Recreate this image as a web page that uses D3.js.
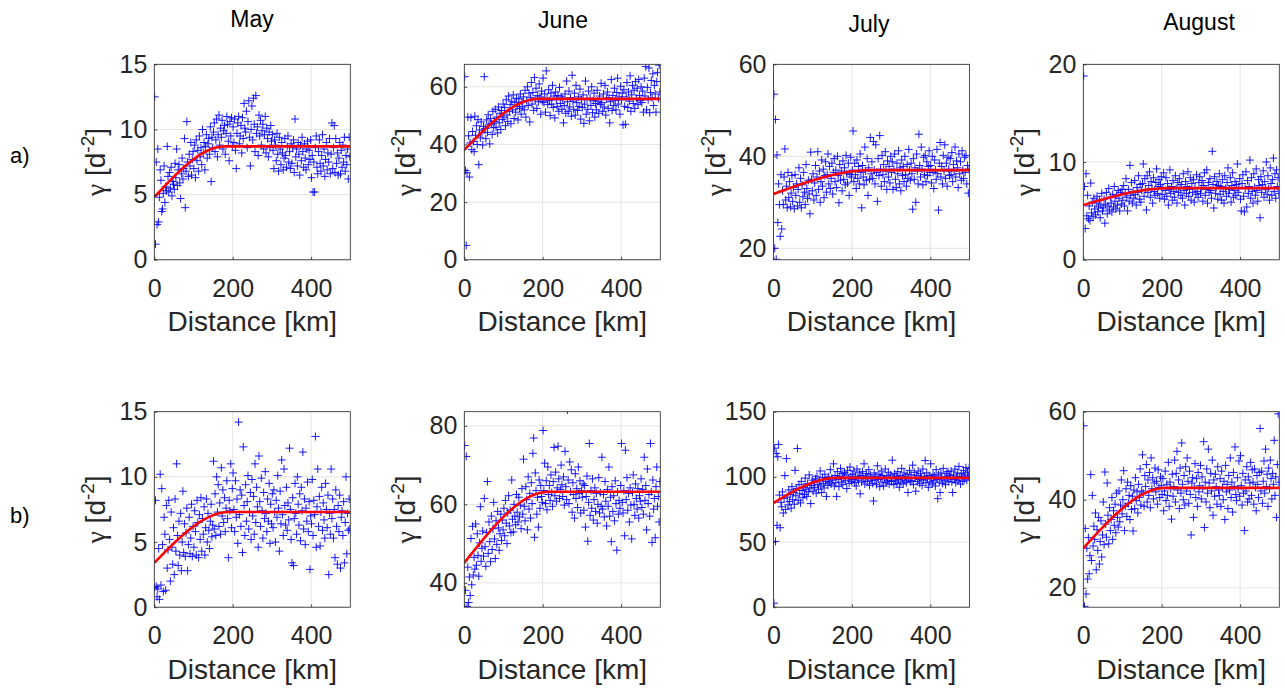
<!DOCTYPE html>
<html>
<head>
<meta charset="utf-8">
<script src="https://cdn.jsdelivr.net/npm/d3@7"></script>
<style>
  body { margin: 0; background: #fff; }
  svg { display: block; }
</style>
</head>
<body>
<svg id="fig" width="1285" height="688"></svg>
<script>
// Empirical semivariograms of the daily series by month, with fitted spherical models.
const months = ["May", "June", "July", "August"];
const rowLabels = ["a)", "b)"];
const xTicks = [0, 200, 400];
const maxDistance = 500; // km, lag bins span 0..500

// Semivariance per lag bin (bins evenly spaced over 0..500 km)
const mayA = [
  12.5, 1.2, 7.5, 2.7, 8.5, 2.9, 4.8, 6.9, 6.1, 3.7, 3.9, 5.1, 7.2, 4.4, 5.6, 5.3, 8.7, 6.4, 5.2, 6.7, 5.5, 7.1, 4.9, 6.0, 5.8,
  5.4, 7.4, 6.3, 8.5, 5.7, 6.9, 7.3, 5.9, 4.7, 6.6, 7.8, 6.2, 7.0, 9.3, 4.0, 6.8, 10.6, 7.5, 6.4, 8.1, 7.2, 9.0, 6.5, 7.7, 8.3,
  7.0, 8.8, 6.3, 9.2, 7.6, 8.4, 6.8, 9.5, 7.9, 8.6, 7.3, 10.0, 8.2, 9.0, 6.9, 8.7, 9.6, 7.8, 8.9, 9.3, 8.1, 10.2, 6.0, 9.4, 8.6,
  9.8, 10.5, 8.3, 9.2, 10.8, 7.9, 9.6, 11.1, 8.8, 10.1, 9.4, 10.7, 8.5, 9.9, 10.3, 8.1, 9.7, 11.0, 10.4, 9.1, 7.6, 10.6, 9.5, 10.9, 8.7,
  10.2, 9.0, 10.8, 8.4, 7.0, 9.7, 10.5, 11.0, 8.9, 9.5, 10.3, 8.2, 10.9, 9.3, 12.0, 10.1, 9.8, 11.4, 8.6, 10.6, 12.2, 9.4, 7.2, 10.0, 11.8,
  9.2, 12.4, 10.4, 8.3, 12.6, 9.7, 10.2, 8.0, 11.1, 9.5, 10.7, 8.8, 9.9, 10.4, 8.5, 9.6, 11.0, 8.2, 10.1, 9.3, 7.9, 9.8, 8.6, 10.3, 9.1,
  9.6, 8.4, 7.0, 9.2, 8.8, 7.6, 9.7, 8.1, 6.8, 9.4, 8.5, 7.3, 9.0, 8.2, 6.9, 7.8, 9.3, 8.0, 7.1, 8.7, 9.5, 7.5, 8.3, 7.0, 8.9,
  7.4, 8.6, 9.2, 6.7, 10.8, 7.9, 8.5, 7.2, 9.0, 8.1, 6.5, 8.8, 7.6, 9.4, 8.3, 7.1, 8.9, 7.8, 6.9, 8.5, 9.1, 7.3, 8.4, 7.7, 9.2,
  6.3, 8.0, 5.2, 7.5, 5.2, 8.6, 9.5, 7.1, 6.6, 8.3, 9.2, 7.4, 6.8, 8.0, 9.6, 7.2, 8.5, 6.4, 7.7, 9.0, 6.9, 8.2, 7.5, 9.3, 6.6,
  8.1, 10.5, 7.0, 8.6, 10.3, 6.7, 9.3, 7.4, 8.2, 6.5, 7.8, 9.0, 6.6, 8.4, 7.1, 8.8, 7.5, 9.4, 6.8, 8.0, 7.3, 8.5, 6.2, 9.4, 7.9
];
const juneA = [
  63.5, 31.0, 5.0, 30.2, 49.5, 43.0, 28.7, 40.5, 49.3, 38.2, 44.5, 41.0, 37.5, 49.8, 43.2, 46.5, 40.0, 48.6, 33.0, 45.0, 42.3, 47.8, 44.0, 39.8, 46.2,
  63.5, 45.5, 42.0, 48.5, 44.2, 50.3, 46.8, 40.2, 49.0, 47.2, 43.5, 51.5, 45.8, 48.0, 52.2, 46.0, 49.5, 44.0, 53.0, 47.5, 50.8, 45.2, 51.8, 48.7, 54.0,
  49.5, 52.8, 46.5, 55.5, 50.2, 48.0, 56.8, 51.5, 53.8, 47.2, 55.0, 52.0, 57.2, 49.0, 54.5, 51.2, 56.0, 53.2, 48.5, 55.8, 52.5, 57.5, 50.5, 54.8, 53.0,
  56.5, 52.0, 58.8, 49.5, 55.2, 60.0, 53.5, 57.8, 47.8, 56.2, 61.5, 54.0, 58.0, 51.8, 63.2, 55.5, 59.5, 52.5, 57.0, 54.8, 61.0, 56.5, 50.5, 58.5, 55.0,
  63.0, 54.5, 57.5, 51.2, 65.5, 56.0, 53.8, 59.0, 55.2, 50.0, 57.8, 54.0, 60.5, 52.8, 56.8, 49.2, 58.2, 55.5, 53.2, 57.0, 51.5, 59.8, 54.2, 56.5, 52.2,
  55.8, 47.5, 53.5, 57.5, 50.8, 62.0, 54.8, 51.5, 58.5, 53.0, 56.2, 49.8, 64.0, 55.0, 52.2, 57.8, 50.2, 60.5, 54.5, 51.8, 56.5, 53.2, 59.2, 48.8, 55.5,
  52.8, 57.2, 47.3, 54.0, 62.0, 50.5, 55.8, 52.2, 58.5, 48.2, 56.0, 53.5, 60.0, 51.0, 55.2, 57.8, 49.5, 54.2, 52.0, 58.8, 55.0, 50.8, 56.8, 53.8, 61.2,
  54.5, 51.5, 57.5, 53.0, 60.5, 50.2, 55.8, 58.2, 52.5, 56.2, 47.5, 54.8, 62.5, 51.8, 57.0, 53.5, 59.5, 55.2, 52.0, 58.0, 63.0, 54.0, 56.5, 50.5, 60.2,
  55.5, 57.8, 46.8, 59.0, 53.2, 47.0, 56.5, 61.5, 52.8, 58.2, 55.0, 63.8, 51.5, 57.2, 60.5, 54.2, 58.8, 52.5, 61.8, 56.0, 59.5, 53.8, 62.5, 57.0, 55.2,
  60.0, 54.5, 58.5, 51.2, 63.0, 56.8, 67.0, 52.0, 59.8, 55.5, 66.5, 51.0, 58.0, 62.2, 56.2, 64.5, 53.5, 60.5, 57.5, 51.2, 61.8, 65.0, 56.0, 67.5, 58.2
];
const julyA = [
  53.5, 20.0, 48.0, 17.6, 40.3, 25.6, 34.0, 29.5, 22.6, 36.0, 24.2, 32.5, 29.5, 35.5, 41.6, 30.5, 33.5, 28.8, 36.5, 31.0, 34.5, 29.0, 32.0, 35.8, 30.2,
  33.2, 28.6, 36.0, 31.5, 34.0, 29.2, 32.8, 37.5, 30.0, 35.2, 28.8, 33.8, 31.2, 36.5, 32.2, 29.5, 38.2, 33.0, 30.8, 34.8, 31.8, 27.5, 40.9, 35.0, 32.5,
  36.2, 30.5, 34.2, 38.0, 31.5, 35.5, 41.0, 32.8, 36.8, 30.0, 34.5, 39.2, 33.5, 37.2, 31.0, 35.8, 38.8, 32.2, 36.0, 40.5, 34.0, 37.8, 33.0, 35.2, 38.5,
  31.8, 36.5, 39.5, 34.5, 37.0, 33.2, 40.0, 35.8, 29.9, 38.2, 34.8, 36.8, 32.5, 39.0, 35.0, 37.5, 33.8, 40.2, 36.2, 34.2, 38.5, 31.5, 36.0, 39.8, 35.5,
  37.0, 45.5, 34.5, 38.5, 36.0, 33.0, 39.2, 35.2, 37.8, 34.0, 40.5, 36.5, 28.8, 38.0, 35.5, 33.8, 42.0, 36.8, 34.8, 39.5, 31.5, 37.5, 35.0, 44.1, 36.2,
  38.8, 35.2, 43.2, 37.0, 34.0, 42.5, 36.5, 30.2, 39.5, 35.8, 44.5, 37.2, 33.5, 40.2, 36.0, 38.2, 34.5, 41.0, 36.8, 32.8, 39.0, 35.5, 37.8, 34.2, 40.0,
  36.5, 38.8, 32.8, 37.2, 40.5, 35.0, 33.2, 38.5, 36.2, 41.2, 34.0, 37.5, 32.5, 39.2, 35.8, 37.8, 34.5, 40.0, 36.0, 33.5, 38.2, 35.2, 41.5, 37.0, 34.8,
  38.5, 36.2, 28.5, 39.5, 35.0, 37.5, 30.0, 40.5, 36.8, 34.0, 44.8, 38.0, 35.5, 42.0, 37.2, 33.8, 39.8, 36.0, 40.2, 34.5, 38.8, 35.8, 37.8, 41.2, 36.5,
  38.0, 34.2, 40.0, 36.5, 33.0, 39.2, 37.0, 35.0, 41.5, 36.2, 28.3, 38.5, 43.0, 35.5, 37.8, 34.0, 40.2, 36.8, 42.5, 35.2, 38.5, 33.5, 39.8, 37.2, 35.8,
  39.5, 36.0, 40.8, 34.5, 38.2, 36.8, 42.0, 35.5, 39.0, 37.5, 33.2, 40.5, 36.2, 38.8, 34.8, 41.2, 37.0, 35.2, 39.8, 36.5, 40.2, 34.0, 38.0, 32.0, 37.2
];
const augustA = [
  18.8, 7.5, 3.2, 8.8, 4.5, 6.6, 4.2, 5.5, 4.0, 7.85, 4.8, 5.9, 4.4, 6.3, 5.2, 4.6, 5.8, 6.5, 4.9, 5.4, 6.1, 4.3, 5.6, 6.8, 5.0,
  5.3, 6.2, 3.75, 5.7, 6.9, 4.7, 5.5, 7.3, 5.1, 6.4, 5.8, 4.9, 6.7, 5.4, 7.5, 6.0, 5.2, 6.6, 5.6, 7.1, 6.3, 5.0, 6.9, 5.7, 7.2,
  6.1, 7.6, 5.5, 6.8, 8.3, 6.4, 5.0, 7.2, 6.0, 9.66, 6.6, 7.9, 5.8, 7.0, 6.3, 8.1, 6.7, 5.6, 7.4, 6.9, 8.6, 6.2, 7.7, 5.9, 7.1,
  7.8, 9.8, 6.5, 8.3, 7.2, 5.1, 8.6, 6.9, 7.6, 9.0, 6.4, 8.0, 7.3, 5.8, 8.4, 7.0, 6.6, 7.9, 9.3, 6.8, 7.5, 8.2, 6.3, 7.7, 8.5,
  6.7, 7.4, 8.9, 6.2, 7.1, 8.4, 6.5, 7.8, 5.6, 7.2, 9.2, 6.8, 7.5, 6.1, 8.1, 7.0, 6.4, 8.6, 7.3, 5.8, 7.9, 6.9, 8.3, 7.4, 6.6,
  7.7, 6.3, 8.8, 7.1, 5.6, 8.0, 6.8, 7.5, 9.0, 6.5, 7.2, 8.4, 6.1, 7.8, 6.9, 8.2, 5.9, 7.4, 6.7, 8.7, 7.0, 6.4, 7.9, 8.5, 6.8,
  7.3, 8.1, 6.0, 7.6, 8.9, 6.6, 7.2, 9.2, 5.8, 7.9, 6.9, 8.3, 7.1, 6.3, 11.1, 7.7, 5.3, 8.5, 6.8, 7.4, 8.0, 6.2, 7.6, 8.8, 6.7,
  7.5, 6.1, 8.2, 7.0, 5.8, 8.6, 7.3, 6.5, 7.9, 9.4, 6.8, 7.2, 8.4, 5.9, 7.6, 8.9, 6.4, 7.1, 8.0, 6.6, 7.7, 9.8, 6.9, 7.4, 8.3,
  6.2, 5.0, 7.8, 8.7, 6.5, 4.9, 7.3, 9.0, 5.4, 8.1, 6.8, 7.5, 10.2, 6.3, 8.4, 7.0, 5.8, 8.8, 7.4, 6.6, 9.3, 7.1, 6.0, 8.2, 7.6,
  4.3, 8.5, 6.9, 7.7, 9.1, 6.4, 8.0, 7.2, 10.0, 6.7, 8.6, 7.3, 6.1, 9.4, 7.8, 6.6, 8.2, 10.4, 7.0, 8.8, 6.3, 9.2, 7.5, 8.4, 6.8
];
const mayB = [
  1.5, 8.2, 1.6, 0.8, 1.4, 4.5, 0.6, 10.2, 1.7, 9.1, 4.8, 1.2, 6.9, 5.6, 1.3, 7.8, 3.0, 4.4, 8.2, 5.2, 2.0, 7.3, 4.6, 3.3, 6.1,
  2.5, 8.3, 4.3, 11.0, 5.5, 3.2, 6.6, 4.0, 7.2, 2.8, 5.0, 8.9, 4.2, 6.4, 3.9, 5.7, 7.6, 2.8, 4.8, 6.9, 4.1, 5.3, 7.9, 3.9, 6.2,
  4.6, 7.4, 5.8, 4.0, 8.2, 6.5, 3.8, 7.1, 5.2, 8.4, 4.3, 6.8, 5.6, 7.7, 4.0, 6.1, 8.3, 5.0, 7.2, 5.9, 4.5, 6.6, 7.9, 5.4, 6.3,
  11.2, 6.0, 8.7, 5.5, 10.0, 7.3, 9.4, 6.2, 8.0, 5.6, 10.7, 7.0, 9.0, 6.5, 8.4, 5.8, 7.6, 9.7, 6.8, 3.8, 8.2, 7.4, 11.0, 6.1, 9.1,
  10.3, 7.5, 5.8, 9.7, 6.9, 8.3, 4.9, 14.2, 7.1, 9.0, 6.2, 8.6, 4.2, 12.3, 7.8, 5.5, 9.4, 6.6, 8.1, 10.1, 6.0, 7.3, 8.8, 5.2, 9.8,
  7.0, 8.5, 5.6, 11.0, 6.5, 9.2, 7.7, 4.6, 11.6, 8.1, 6.2, 9.9, 7.4, 5.3, 8.8, 6.8, 10.4, 7.2, 5.8, 8.3, 6.6, 9.5, 4.9, 7.9, 6.4,
  8.7, 6.1, 9.0, 7.3, 5.0, 8.2, 6.9, 10.1, 7.6, 4.3, 8.9, 6.4, 11.3, 7.1, 5.5, 10.6, 7.8, 6.3, 9.2, 5.9, 8.0, 6.7, 12.2, 7.5, 5.2,
  3.4, 8.4, 3.2, 6.8, 9.5, 7.2, 5.6, 10.0, 7.9, 6.3, 8.7, 5.1, 9.2, 7.4, 11.9, 6.0, 8.3, 4.8, 7.6, 6.6, 9.6, 5.8, 8.1, 2.9, 7.0,
  6.4, 9.8, 5.5, 8.2, 7.1, 13.1, 4.6, 7.7, 10.6, 6.2, 8.5, 4.7, 7.3, 9.2, 5.9, 8.0, 6.7, 5.3, 9.5, 7.5, 6.1, 8.6, 2.5, 7.2, 5.6,
  10.6, 6.8, 8.3, 5.3, 7.5, 3.8, 9.0, 6.2, 3.3, 7.8, 5.8, 8.6, 3.0, 6.9, 7.4, 5.5, 8.1, 3.4, 6.5, 10.0, 4.1, 7.2, 5.9, 8.3, 6.0
];
const juneB = [
  75.0, 38.1, 72.2, 34.0, 44.0, 35.0, 41.5, 36.8, 51.3, 39.5, 54.4, 42.0, 46.5, 43.5, 55.0, 44.5, 52.5, 47.0, 41.7, 50.2, 59.4, 45.5, 48.8, 53.2, 46.8,
  61.5, 49.2, 44.2, 52.8, 65.8, 47.5, 55.5, 50.5, 45.4, 57.0, 48.5, 53.8, 60.5, 51.2, 46.2, 55.8, 49.8, 58.2, 54.0, 48.3, 52.5, 57.5, 50.8, 56.0, 53.5,
  59.0, 52.0, 61.0, 55.2, 50.0, 57.8, 62.2, 54.5, 58.5, 52.8, 66.2, 56.2, 53.0, 60.0, 57.0, 54.8, 62.5, 58.0, 55.5, 61.8, 56.8, 59.8, 53.8, 64.0, 57.5,
  71.5, 59.5, 55.8, 64.5, 61.2, 53.5, 67.0, 58.8, 62.8, 56.5, 65.5, 60.2, 73.0, 76.9, 51.6, 68.0, 63.5, 57.5, 61.8, 54.2, 66.2, 59.0, 64.8, 62.0, 60.5,
  78.8, 63.5, 70.5, 60.2, 66.0, 58.6, 69.5, 62.5, 64.8, 61.0, 67.5, 63.0, 59.5, 65.8, 74.5, 62.2, 68.2, 60.8, 64.2, 74.8, 66.5, 61.5, 63.8, 70.0, 65.0,
  62.0, 67.0, 59.8, 73.5, 64.5, 61.2, 84.0, 66.2, 60.2, 70.8, 63.2, 68.8, 58.0, 65.5, 62.5, 56.5, 67.8, 61.5, 64.0, 59.2, 69.5, 62.8, 66.0, 57.8, 63.5,
  61.8, 65.2, 58.5, 64.8, 54.2, 62.0, 67.2, 50.6, 60.5, 75.5, 57.2, 63.5, 59.0, 66.5, 56.0, 61.2, 64.2, 58.2, 62.8, 55.2, 60.0, 66.8, 57.8, 63.0, 59.5,
  72.0, 58.8, 62.5, 56.8, 65.8, 60.8, 54.5, 63.8, 59.5, 69.5, 57.0, 61.8, 50.5, 64.5, 58.2, 62.2, 55.8, 66.0, 60.2, 48.3, 63.2, 57.5, 61.0, 59.0, 64.8,
  75.5, 60.5, 57.8, 63.5, 52.0, 73.8, 61.2, 66.8, 58.5, 62.8, 55.5, 64.2, 59.8, 51.2, 63.0, 67.5, 60.0, 57.2, 65.2, 61.5, 58.8, 64.0, 56.5, 62.2, 60.8,
  66.5, 59.2, 63.8, 57.5, 72.0, 61.0, 64.8, 53.5, 69.0, 60.2, 62.5, 57.0, 75.5, 63.2, 50.3, 66.2, 58.8, 61.5, 51.5, 64.5, 69.5, 59.5, 62.0, 55.5, 65.8
];
const julyB = [
  3.1, 122.0, 50.5, 118.0, 62.8, 115.4, 124.9, 86.0, 61.0, 80.5, 77.0, 88.5, 72.3, 83.5, 101.0, 75.0, 114.0, 84.5, 78.5, 90.0, 81.0, 86.5, 76.0, 92.5, 82.5,
  88.0, 79.0, 105.0, 85.5, 91.0, 121.8, 82.0, 94.0, 87.0, 80.0, 96.5, 89.5, 84.0, 92.0, 86.5, 99.0, 90.5, 85.0, 95.0, 88.5, 101.5, 91.5, 79.5, 93.5, 97.5,
  89.0, 95.5, 92.0, 98.5, 87.5, 100.5, 94.0, 90.5, 97.0, 104.5, 93.0, 88.0, 99.5, 95.0, 91.5, 102.0, 96.5, 85.0, 98.0, 93.5, 100.0, 96.0, 105.5, 94.5, 99.0,
  97.5, 110.0, 93.0, 101.0, 95.5, 85.0, 104.0, 98.0, 92.5, 100.5, 106.5, 96.0, 102.5, 94.0, 99.5, 103.5, 97.0, 101.5, 91.0, 105.0, 98.5, 95.0, 107.5, 100.0, 96.5,
  102.0, 98.0, 104.5, 95.5, 100.5, 93.0, 106.0, 99.0, 97.0, 103.0, 87.0, 101.0, 96.0, 104.0, 98.5, 110.0, 94.5, 100.0, 102.5, 96.5, 99.5, 105.5, 93.5, 101.5, 97.5,
  99.0, 95.0, 81.5, 103.0, 97.5, 100.5, 94.0, 108.5, 98.0, 102.0, 92.5, 99.5, 104.5, 96.0, 101.0, 93.0, 98.5, 106.0, 95.5, 100.0, 97.0, 103.5, 94.5, 99.0, 101.5,
  96.5, 112.8, 99.5, 94.0, 102.5, 97.0, 100.5, 95.0, 104.0, 98.0, 92.0, 101.0, 96.0, 106.5, 99.0, 94.5, 103.0, 97.5, 100.0, 95.5, 102.0, 88.0, 98.5, 105.0, 96.5,
  101.5, 97.0, 109.0, 94.0, 103.5, 99.0, 89.0, 101.0, 96.5, 104.5, 98.0, 95.0, 102.5, 99.5, 93.5, 106.0, 97.5, 100.5, 112.5, 95.5, 103.0, 98.5, 92.0, 101.0, 96.0,
  110.0, 99.0, 94.5, 102.0, 97.0, 100.5, 93.0, 105.5, 98.0, 83.3, 101.5, 96.0, 88.0, 103.0, 99.5, 95.0, 106.5, 97.5, 100.0, 94.0, 102.5, 98.5, 104.0, 96.5, 101.0,
  99.5, 104.5, 96.0, 88.0, 101.5, 98.0, 106.0, 95.5, 100.0, 103.0, 97.0, 108.0, 99.0, 94.5, 102.5, 100.5, 96.5, 105.0, 98.5, 101.5, 107.0, 97.5, 103.5, 100.0, 106.5
];
const augustB = [
  56.8, 15.8, 33.5, 18.6, 29.0, 22.0, 31.4, 23.2, 27.3, 45.7, 26.2, 41.0, 29.5, 34.0, 31.0, 37.0, 24.1, 33.2, 28.5, 36.0, 25.4, 30.5, 35.2, 27.0, 32.0,
  39.5, 29.8, 46.3, 34.5, 31.5, 43.8, 36.5, 30.0, 38.2, 33.0, 35.5, 40.5, 31.0, 37.5, 34.2, 39.0, 32.5, 41.5, 36.0, 33.8, 42.0, 35.0, 38.8, 44.5, 36.8,
  40.0, 46.6, 33.0, 38.5, 42.5, 36.2, 44.0, 39.2, 41.0, 35.5, 43.2, 37.8, 40.8, 32.9, 42.2, 38.0, 45.0, 39.8, 41.8, 37.0, 43.5, 40.5, 47.0, 38.8, 42.0,
  50.2, 41.5, 38.5, 45.5, 43.0, 48.0, 39.5, 44.5, 41.0, 46.2, 38.2, 49.5, 42.5, 45.0, 40.2, 43.8, 47.2, 41.8, 44.2, 39.0, 46.8, 42.8, 40.5, 45.2, 43.2,
  41.2, 44.8, 37.5, 42.0, 46.5, 39.8, 43.5, 41.0, 48.5, 38.5, 44.0, 42.5, 35.6, 45.8, 40.8, 43.0, 49.0, 39.5, 46.0, 51.0, 42.2, 44.5, 38.0, 47.2, 41.5,
  52.9, 43.5, 40.0, 45.5, 38.8, 47.5, 42.0, 49.5, 44.2, 39.2, 46.5, 41.2, 32.0, 43.8, 45.0, 36.0, 42.8, 48.2, 40.5, 44.8, 38.5, 46.2, 41.8, 43.2, 47.8,
  40.2, 45.2, 42.5, 53.2, 33.7, 44.0, 39.5, 47.0, 41.5, 51.5, 43.8, 38.2, 46.0, 42.0, 49.0, 36.5, 44.5, 40.8, 45.8, 43.0, 39.0, 47.5, 42.2, 41.0, 44.8,
  38.5, 46.5, 42.8, 40.0, 44.2, 35.5, 47.8, 41.8, 43.5, 38.0, 45.5, 42.2, 49.5, 40.5, 44.0, 37.2, 46.2, 43.0, 52.0, 41.2, 39.8, 45.0, 42.5, 48.8, 40.8,
  50.0, 43.2, 38.8, 46.0, 41.5, 33.0, 44.5, 42.0, 47.5, 39.5, 45.2, 40.2, 43.8, 48.5, 41.0, 46.8, 44.0, 39.0, 47.0, 42.8, 37.5, 45.5, 43.5, 40.5, 46.2,
  56.2, 42.0, 46.5, 39.2, 44.2, 48.8, 41.5, 51.5, 43.0, 45.8, 38.5, 47.2, 42.5, 49.0, 44.8, 40.2, 46.0, 43.5, 53.5, 41.0, 45.2, 36.0, 48.0, 59.5, 44.0
];

// Panel order: row a (May..August), then row b (May..August)
const seriesValues = [mayA, juneA, julyA, augustA, mayB, juneB, julyB, augustB];
const yDomains = [[0, 15], [0, 67.8], [17.5, 60], [0, 20], [0, 15], [33.8, 83.6], [0, 150], [15.6, 60]];
const yTickValues = [[0, 5, 10, 15], [0, 20, 40, 60], [20, 40, 60], [0, 10, 20],
                     [0, 5, 10, 15], [40, 60, 80], [0, 50, 100, 150], [20, 40, 60]];
// panels carrying a y-axis title
const showYLabel = [true, true, true, true, true, true, false, true];

// Fitted spherical models: value at zero lag, sill, range (km)
const nuggets = [4.8, 38.1, 31.8, 5.6, 3.4, 45.1, 80.0, 29.0];
const sills   = [8.7, 55.8, 37.0, 7.33, 7.3, 63.2, 99.2, 42.7];
const ranges  = [180, 190, 250, 220, 190, 215, 160, 210];

// ---- layout ----
const colLeft = [154.3, 464.3, 773.5, 1083.3];
const rowTop = [64.3, 411.7];
const pw = 196, ph = 195.5;
const textColor = "#262626";
const sans = "'Liberation Sans', Arial, sans-serif";

const svg = d3.select("#fig");
const defs = svg.append("defs");

function spherical(h, c0, s, a) {
  if (h >= a) return s;
  const r = h / a;
  return c0 + (s - c0) * (1.5 * r - 0.5 * r * r * r);
}

seriesValues.forEach((vals, i) => {
  const row = Math.floor(i / 4), col = i % 4;
  const left = colLeft[col], top = rowTop[row];
  const g = svg.append("g").attr("transform", `translate(${left},${top})`);

  const x = d3.scaleLinear().domain([0, maxDistance]).range([0, pw]);
  const y = d3.scaleLinear().domain(yDomains[i]).range([ph, 0]);

  // grid
  const grid = g.append("g").attr("stroke", "#e3e3e3").attr("stroke-width", 1);
  xTicks.forEach(t => grid.append("line")
    .attr("x1", x(t)).attr("x2", x(t)).attr("y1", 0).attr("y2", ph));
  yTickValues[i].forEach(t => grid.append("line")
    .attr("x1", 0).attr("x2", pw).attr("y1", y(t)).attr("y2", y(t)));

  // clip to plot area
  const clipId = "clip" + i;
  defs.append("clipPath").attr("id", clipId)
    .append("rect").attr("x", 0).attr("y", 0).attr("width", pw).attr("height", ph);
  const plot = g.append("g").attr("clip-path", `url(#${clipId})`);

  // lag bin centres
  const n = vals.length;
  const pts = vals.map((v, k) => [(k + 0.5) * maxDistance / n, v]);

  const arm = 4;
  plot.append("path")
    .attr("fill", "none")
    .attr("stroke", "#0000ff")
    .attr("stroke-width", 1)
    .attr("stroke-opacity", 0.9)
    .attr("d", pts.map(([d, v]) => {
      const px = x(d), py = y(v);
      return `M${px - arm},${py}H${px + arm}M${px},${py - arm}V${py + arm}`;
    }).join(""));

  // fitted model
  const hs = d3.range(0, maxDistance + 0.01, 2.5);
  plot.append("path")
    .datum(hs)
    .attr("fill", "none")
    .attr("stroke", "#ff0000")
    .attr("stroke-width", 2.6)
    .attr("stroke-linejoin", "round")
    .attr("d", d3.line()
      .x(h => x(h))
      .y(h => y(spherical(h, nuggets[i], sills[i], ranges[i]))));

  // axes
  const xAxis = g.append("g").attr("transform", `translate(0,${ph})`)
    .call(d3.axisBottom(x).tickValues(xTicks).tickSizeInner(-3).tickSizeOuter(0).tickPadding(19));
  const yAxis = g.append("g")
    .call(d3.axisLeft(y).tickValues(yTickValues[i]).tickSizeInner(-3).tickSizeOuter(0).tickPadding(7));
  [xAxis, yAxis].forEach(ax => {
    ax.select(".domain").remove();
    ax.selectAll(".tick line").attr("stroke", textColor).attr("stroke-width", 0.8);
    ax.selectAll(".tick text").attr("fill", textColor)
      .style("font-family", sans).style("font-size", "25px");
  });

  // box
  g.append("rect").attr("x", 0).attr("y", 0).attr("width", pw).attr("height", ph)
    .attr("fill", "none").attr("stroke", textColor).attr("stroke-width", 0.8);

  // x label
  g.append("text")
    .attr("x", pw / 2).attr("y", ph + 71.7)
    .attr("text-anchor", "middle")
    .attr("fill", textColor)
    .style("font-family", sans).style("font-size", "28px")
    .text("Distance [km]");

  // y label
  if (showYLabel[i]) {
    const yl = g.append("text")
      .attr("transform", `translate(-49,${ph / 2}) rotate(-90)`)
      .attr("text-anchor", "middle")
      .attr("fill", textColor)
      .style("font-family", sans).style("font-size", "28px");
    yl.append("tspan").style("font-family", "'Liberation Serif', 'DejaVu Serif', serif").text("γ");
    yl.append("tspan").text(" [d");
    yl.append("tspan").attr("dy", -11).style("font-size", "19px").text("-2");
    yl.append("tspan").attr("dy", 11).text("]");
  }
});

// month titles
const titlePos = [[252, 27], [563, 28], [869, 32], [1199, 30]];
months.forEach((m, c) => {
  svg.append("text")
    .attr("x", titlePos[c][0]).attr("y", titlePos[c][1])
    .attr("text-anchor", "middle")
    .attr("fill", "#000")
    .style("font-family", sans).style("font-size", "23px")
    .text(m);
});

// row labels
rowLabels.forEach((t, r) => {
  svg.append("text")
    .attr("x", 10).attr("y", [163, 523][r])
    .attr("fill", "#000")
    .style("font-family", sans).style("font-size", "22px")
    .text(t);
});
</script>
